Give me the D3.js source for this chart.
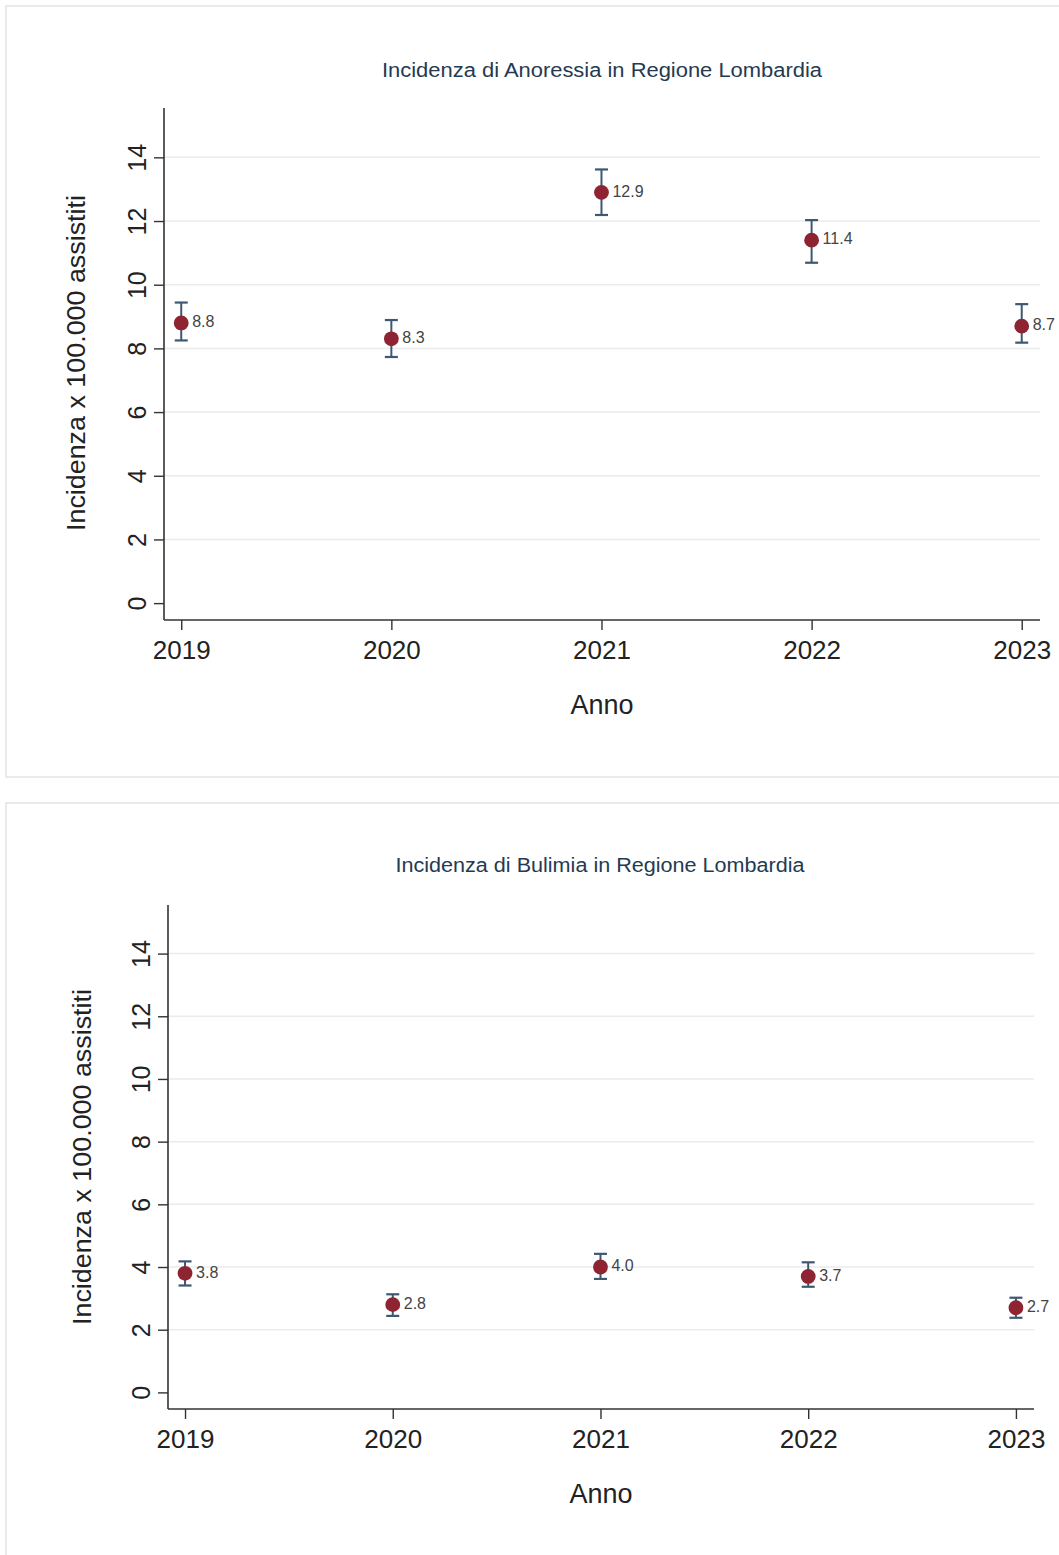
<!DOCTYPE html>
<html><head><meta charset="utf-8">
<script src="https://cdn.jsdelivr.net/npm/d3@7"></script>
<style>body{margin:0;background:#fff}svg{display:block}</style>
</head><body>
<script>
const years = [2019, 2020, 2021, 2022, 2023];
const yTicks = [0, 2, 4, 6, 8, 10, 12, 14];
const anoressiaVal = [8.8, 8.3, 12.9, 11.4, 8.7];
const anoressiaLow = [8.25, 7.73, 12.19, 10.69, 8.18];
const anoressiaHigh = [9.44, 8.89, 13.62, 12.03, 9.39];
const bulimiaVal = [3.8, 2.8, 4.0, 3.7, 2.7];
const bulimiaLow = [3.41, 2.44, 3.62, 3.37, 2.38];
const bulimiaHigh = [4.18, 3.13, 4.42, 4.15, 3.02];
const titles = ["Incidenza di Anoressia in Regione Lombardia", "Incidenza di Bulimia in Regione Lombardia"];
const yTitle = "Incidenza x 100.000 assistiti";
const xTitle = "Anno";

const W = 1059, H = 1555;
const svg = d3.select("body").append("svg").attr("width", W).attr("height", H);
const FONT = "'Liberation Sans', Arial, sans-serif";

function panel(cfg) {
  const g = svg.append("g");
  g.append("rect").attr("x", cfg.box[0]).attr("y", cfg.box[1]).attr("width", cfg.box[2]).attr("height", cfg.box[3])
    .attr("fill", "#fff").attr("stroke", "#e4e4e4").attr("stroke-width", 1.5);
  const x = d3.scaleLinear().domain([2018.918, 2023.087]).range([cfg.left, cfg.right]);
  const y = d3.scaleLinear().domain([-0.53, 15.55]).range([cfg.bottom, cfg.top]);
  // grid
  g.append("g").selectAll("line").data(yTicks.filter(d => d > 0)).join("line")
    .attr("x1", cfg.left).attr("x2", cfg.right).attr("y1", d => y(d)).attr("y2", d => y(d))
    .attr("stroke", "#ebebeb").attr("stroke-width", 1.5);
  // y axis
  const ya = g.append("g").attr("transform", `translate(${cfg.left},0)`)
    .call(d3.axisLeft(y).tickValues(yTicks).tickSize(10).tickSizeOuter(0).tickPadding(0));
  ya.select(".domain").attr("stroke", "#333").attr("stroke-width", 1.6);
  ya.selectAll(".tick line").attr("stroke", "#333").attr("stroke-width", 1.4);
  ya.selectAll(".tick text").attr("font-family", FONT).attr("font-size", 25).attr("fill", "#222")
    .attr("x", 0).attr("dy", 0).attr("text-anchor", "middle")
    .attr("transform", "translate(-25,0) rotate(-90)").attr("dominant-baseline", "middle");
  ya.select(".domain").attr("d", `M0,${cfg.top}V${cfg.bottom}`);
  // x axis
  const xa = g.append("g").attr("transform", `translate(0,${cfg.bottom})`)
    .call(d3.axisBottom(x).tickValues(years).tickFormat(d3.format("d")).tickSize(10).tickSizeOuter(0).tickPadding(11));
  xa.select(".domain").attr("stroke", "#333").attr("stroke-width", 1.6).attr("d", `M${cfg.left},0H${cfg.right}`);
  xa.selectAll(".tick line").attr("stroke", "#333").attr("stroke-width", 1.4);
  xa.selectAll(".tick text").attr("font-family", FONT).attr("font-size", 26).attr("fill", "#222");
  // titles
  g.append("text").attr("x", cfg.titleX).attr("y", cfg.titleY).attr("text-anchor", "middle")
    .attr("font-family", FONT).attr("font-size", 20).attr("fill", "#253a52")
    .attr("textLength", cfg.titleLen).attr("lengthAdjust", "spacingAndGlyphs").text(cfg.title);
  g.append("text").attr("x", (cfg.left + cfg.right) / 2).attr("y", cfg.xTitleY).attr("text-anchor", "middle")
    .attr("font-family", FONT).attr("font-size", 27).attr("fill", "#222").text(xTitle);
  g.append("text").attr("transform", `translate(${cfg.yTitleX},${(cfg.top + cfg.bottom) / 2 + cfg.yTitleOff}) rotate(-90)`)
    .attr("text-anchor", "middle").attr("dominant-baseline", "middle")
    .attr("font-family", FONT).attr("font-size", 26).attr("fill", "#222")
    .attr("textLength", 336).attr("lengthAdjust", "spacingAndGlyphs").text(yTitle);
  // data
  const data = years.map((yr, i) => ({ yr, v: cfg.val[i], lo: cfg.lo[i], hi: cfg.hi[i] }));
  const m = g.append("g").selectAll("g").data(data).join("g");
  m.append("line").attr("x1", d => x(d.yr)).attr("x2", d => x(d.yr)).attr("y1", d => y(d.lo)).attr("y2", d => y(d.hi))
    .attr("stroke", "#3f5872").attr("stroke-width", 2);
  [d => d.lo, d => d.hi].forEach(f => {
    m.append("line").attr("x1", d => x(d.yr) - 6.5).attr("x2", d => x(d.yr) + 6.5).attr("y1", d => y(f(d))).attr("y2", d => y(f(d)))
      .attr("stroke", "#3f5872").attr("stroke-width", 2.2);
  });
  m.append("circle").attr("cx", d => x(d.yr)).attr("cy", d => y(d.v)).attr("r", 7.4).attr("fill", "#8e2432");
  m.append("text").attr("x", d => x(d.yr) + 11).attr("y", d => y(d.v)).attr("dominant-baseline", "middle")
    .attr("font-family", FONT).attr("font-size", 16).attr("fill", "#444").text(d => d.v.toFixed(1));
}

panel({ box: [6, 6, 1070, 771], left: 164, right: 1040, top: 108, bottom: 620,
  title: titles[0], titleX: 602, titleY: 77, titleLen: 440, xTitleY: 714, yTitleX: 78, yTitleOff: -1,
  val: anoressiaVal, lo: anoressiaLow, hi: anoressiaHigh });
panel({ box: [6, 803, 1070, 770], left: 168, right: 1034, top: 905, bottom: 1409,
  title: titles[1], titleX: 600, titleY: 872, titleLen: 409, xTitleY: 1503, yTitleX: 84, yTitleOff: 0,
  val: bulimiaVal, lo: bulimiaLow, hi: bulimiaHigh });
</script>
</body></html>
